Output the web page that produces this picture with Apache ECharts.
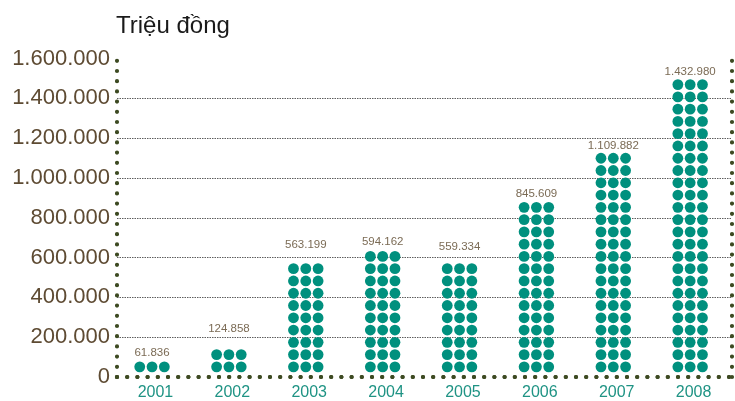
<!DOCTYPE html>
<html>
<head>
<meta charset="utf-8">
<script src="https://cdn.jsdelivr.net/npm/echarts@6/dist/echarts.min.js"></script>
<style>
html,body{margin:0;padding:0;background:#fff;}
#chart{width:735px;height:401px;}
</style>
</head>
<body>
<div id="chart"></div>
<script>
var categories = ['2001','2002','2003','2004','2005','2006','2007','2008'];
var values = [61836, 124858, 563199, 594162, 559334, 845609, 1109882, 1432980];
var yTicks = [0, 200000, 400000, 600000, 800000, 1000000, 1200000, 1400000, 1600000];
var ROW_VALUE = 60800;   // value represented by one row of dots
var PITCH_VALUE = 61650; // vertical pitch of a row, in axis units
// style: extra vertical nudge (px) of each value label above its dot column
var labelNudge = [0, -12, -10, 0, -8, 1, 2, 1];

function fmt(v){ return String(v).replace(/\B(?=(\d{3})+(?!\d))/g, '.'); }

var chart = echarts.init(document.getElementById('chart'), null, {renderer:'canvas'});
var dotColor = '#00907e';
var borderLine = {show:true, lineStyle:{color:'#3d4a22', width:4.2, type:[0,10.2], cap:'round'}};

function makeData(withLabel){
  return values.map(function(v, k){
    var rows = Math.round(v / ROW_VALUE);
    var item = {value: v, symbolRepeat: rows, symbolBoundingData: rows * PITCH_VALUE};
    if (withLabel) item.label = {offset:[-3.4, labelNudge[k]]};
    return item;
  });
}
var dx = [-12.3, 0, 12.3];
var series = dx.map(function(d, i){
  return {
    type:'pictorialBar',
    symbol:'circle',
    symbolSize:[10.8,10.8],
    symbolMargin:'1!',
    symbolOffset:[d - 3.4, -4],
    barGap:'-100%',
    barWidth:12,
    itemStyle:{color:dotColor},
    z: 5,
    label: i === 1 ? {
      show:true, position:'top', distance:2,
      color:'#7b6b55', fontSize:11.5, fontFamily:'Liberation Sans',
      formatter:function(p){ return fmt(p.value); }
    } : {show:false},
    data: makeData(i === 1)
  };
});

chart.setOption({
  animation:false,
  title:{text:'Triệu đồng', left:111, top:9, textStyle:{fontFamily:'Liberation Sans', fontSize:24, fontWeight:'normal', color:'#1a1a1a'}},
  grid:{left:117, right:3, top:58.5, bottom:24},
  xAxis:[{
    type:'category', data:categories, position:'bottom',
    axisLine:borderLine, axisTick:{show:false},
    axisLabel:{color:'#1f9384', fontSize:16, fontFamily:'Liberation Sans', margin:8}
  },{
    type:'category', data:categories, position:'top',
    axisLine:borderLine, axisTick:{show:false}, axisLabel:{show:false}
  }],
  yAxis:[{
    type:'value', min:yTicks[0], max:yTicks[yTicks.length-1], interval:yTicks[1]-yTicks[0],
    axisLine:borderLine, axisTick:{show:false},
    axisLabel:{color:'#5e4b33', fontSize:22, fontFamily:'Liberation Sans', margin:7, formatter:function(v){return fmt(v);}},
    splitLine:{show:true, showMinLine:false, showMaxLine:false, lineStyle:{color:'#333', width:0.8, type:[1.5,1]}}
  },{
    type:'value', min:yTicks[0], max:yTicks[yTicks.length-1], position:'right',
    axisLine:borderLine, axisTick:{show:false}, axisLabel:{show:false}, splitLine:{show:false}
  }],
  series:series
});
</script>
</body>
</html>
